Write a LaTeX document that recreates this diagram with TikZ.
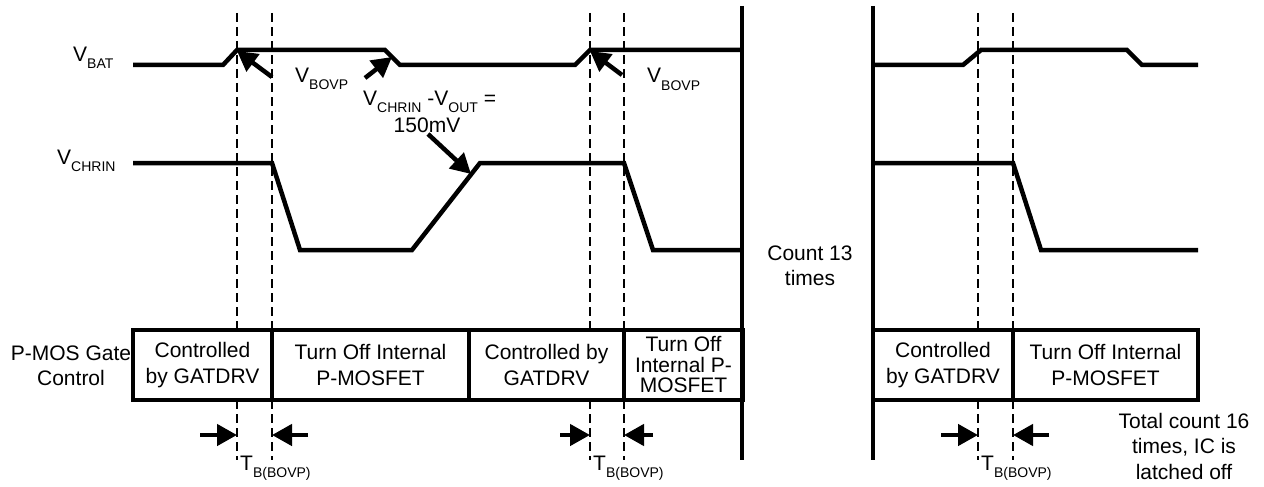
\documentclass[tikz,border=0pt]{standalone}
\usepackage{fontspec}
\setmainfont{Liberation Sans}
\usetikzlibrary{arrows.meta}
\newcommand\lsub[1]{\raisebox{-7pt}{\fontsize{14}{14}\selectfont #1}}
\begin{document}
\begin{tikzpicture}[x=1pt,y=-1pt,
  every node/.style={font=\fontsize{21}{25.5}\selectfont, inner sep=0pt},
  sig/.style={line width=4.5pt},
  thickbar/.style={line width=4.5pt},
  guide/.style={line width=2.6pt, dash pattern=on 9pt off 5pt},
  cell/.style={draw, line width=4.5pt, minimum height=70pt, align=center},
  arr/.style={line width=4.5pt, -{Triangle[length=20pt,width=21pt]}},
  lbl/.style={anchor=base west}
]
\useasboundingbox (0,0) rectangle (1264,487);

% ---- labels on the left
\node[lbl] (vbat) at (73,62) {V\lsub{BAT}};
\node[lbl] (vchrin) at (57,164) {V\lsub{CHRIN}};
\node[align=center] (pmos) at (71,366) {P-MOS Gate\\Control};

% ---- guide (dashed) lines
\foreach \gx/\gn in {237/ga,272/gb,590/gc,624/gd,978/ge,1013/gf}{
  \coordinate (\gn t) at (\gx,13);
  \coordinate (\gn m) at (\gx,330);
  \coordinate (\gn n) at (\gx,400);
  \coordinate (\gn b) at (\gx,460);
  \draw[guide] (\gn t) -- (\gn m);
  \draw[guide] (\gn n) -- (\gn b);
}

% ---- thick separators
\coordinate (sepat) at (742,6);  \coordinate (sepab) at (742,460);
\coordinate (sepbt) at (873,6);  \coordinate (sepbb) at (873,460);
\draw[thickbar] (sepat) -- (sepab);
\draw[thickbar] (sepbt) -- (sepbb);

% ---- VBAT waveform
\draw[sig] (133,65) -- (223,65) -- (237,50) -- (385,50) -- (400,65)
  -- (575,65) -- (590,50) -- (742,50);
\draw[sig] (873,65) -- (963,65) -- (981,50) -- (1127,50) -- (1142,65) -- (1198,65);

% ---- VCHRIN waveform
\draw[sig] (133,163) -- (272,163) -- (300,250) -- (412,250) -- (480,163)
  -- (624,163) -- (653,250) -- (742,250);
\draw[sig] (873,163) -- (1013,163) -- (1041,250) -- (1198,250);

% ---- annotations
\node[lbl] (bovpa) at (295,82) {V\lsub{BOVP}};
\node[lbl] (bovpb) at (647,83) {V\lsub{BOVP}};
\node[lbl] (diff) at (363,105) {V\lsub{CHRIN} -V\lsub{OUT} =};
\node[anchor=base] (mv) at (427,132) {150mV};

\coordinate (a1s) at (272,77);  \coordinate (a1e) at (237,51);
\coordinate (a2s) at (365,78);  \coordinate (a2e) at (392,57);
\coordinate (a3s) at (428,134); \coordinate (a3e) at (471,174);
\coordinate (a4s) at (622,75);  \coordinate (a4e) at (590,51);
\draw[arr] (a1s) -- (a1e);
\draw[arr] (a2s) -- (a2e);
\draw[arr] (a3s) -- (a3e);
\draw[arr] (a4s) -- (a4e);

\node[align=center] (cnt) at (810,266) {Count 13\\times};

% ---- gate control boxes
\node[cell, minimum width=139pt] (c1) at (202.5,365) {Controlled\\by GATDRV};
\node[cell, minimum width=197pt] (c2) at (370.5,365) {Turn Off Internal\\P-MOSFET};
\node[cell, minimum width=155pt] (c3) at (546.5,365) {Controlled by\\GATDRV};
\node[cell, minimum width=119pt, font=\fontsize{21}{20.5}\selectfont] (c4) at (683.5,365) {Turn Off\\Internal P-\\MOSFET};
\node[cell, minimum width=140pt] (r1) at (943,365) {Controlled\\by GATDRV};
\node[cell, minimum width=185pt] (r2) at (1105.5,365) {Turn Off Internal\\P-MOSFET};

% ---- blanking time markers
\foreach \la/\lb/\ra/\rb/\nm in {200/237/308/272/p,560/590/653/624/q,941/978/1049/1013/r}{
  \coordinate (\nm l) at (\la,435); \coordinate (\nm L) at (\lb,435);
  \coordinate (\nm r) at (\ra,435); \coordinate (\nm R) at (\rb,435);
  \draw[arr] (\nm l) -- (\nm L);
  \draw[arr] (\nm r) -- (\nm R);
}
\node[lbl] (tba) at (240,470) {T\lsub{B(BOVP)}};
\node[lbl] (tbb) at (593,470) {T\lsub{B(BOVP)}};
\node[lbl] (tbc) at (981,470) {T\lsub{B(BOVP)}};

\node[align=center] (total) at (1184,446) {Total count 16\\times, IC is\\latched off};
\end{tikzpicture}
\end{document}
